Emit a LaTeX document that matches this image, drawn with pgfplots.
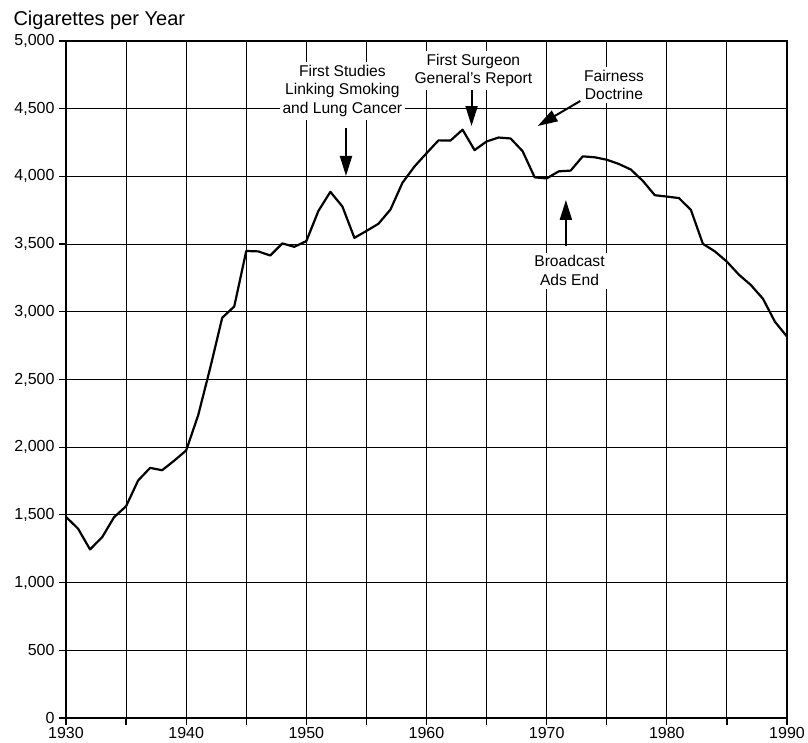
\documentclass[border=0pt]{standalone}
\usepackage{fontspec}
\setmainfont{Liberation Sans}
\usepackage{pgfplots}
\pgfplotsset{compat=1.18}
\usetikzlibrary{arrows.meta}

% US adult per capita cigarette consumption
\begin{document}
\begin{tikzpicture}
\begin{axis}[
    scale only axis, width=721pt, height=677pt,
    xmin=1930, xmax=1990, ymin=0, ymax=5000,
    xtick={1930,1935,...,1990},
    xticklabels={1930,,1940,,1950,,1960,,1970,,1980,,1990},
    ytick={0,500,...,5000},
    yticklabels={0,500,{1,000},{1,500},{2,000},{2,500},{3,000},{3,500},{4,000},{4,500},{5,000}},
    tick align=outside, major tick length=7pt,
    tick style={black, line width=1.2pt},
    xtick pos=bottom, ytick pos=left,
    grid=major,
    major grid style={black, line width=0.9pt},
    axis line style={black, line width=2pt},
    tick label style={font=\fontsize{16}{19}\selectfont},
    yticklabel style={xshift=-1pt},
    xticklabel style={yshift=1pt},
    clip=false,
]
\addplot[black, line width=2.2pt, line join=round] coordinates {
(1930,1485) (1931,1399) (1932,1245) (1933,1334) (1934,1483)
(1935,1564) (1936,1754) (1937,1847) (1938,1830) (1939,1900)
(1940,1976) (1941,2236) (1942,2585) (1943,2956) (1944,3039)
(1945,3449) (1946,3446) (1947,3416) (1948,3505) (1949,3480)
(1950,3522) (1951,3744) (1952,3886) (1953,3778) (1954,3546)
(1955,3597) (1956,3650) (1957,3755) (1958,3953) (1959,4073)
(1960,4171) (1961,4266) (1962,4265) (1963,4345) (1964,4194)
(1965,4258) (1966,4287) (1967,4280) (1968,4186) (1969,3993)
(1970,3985) (1971,4037) (1972,4043) (1973,4148) (1974,4141)
(1975,4123) (1976,4092) (1977,4051) (1978,3967) (1979,3861)
(1980,3851) (1981,3840) (1982,3753) (1983,3502) (1984,3446)
(1985,3370) (1986,3274) (1987,3197) (1988,3096) (1989,2926)
(1990,2817)
};
\coordinate (sw) at (rel axis cs:0,0);
\coordinate (ne) at (rel axis cs:1,1);
\coordinate (nw) at (rel axis cs:0,1);

\tikzset{note/.style={anchor=north, fill=white, inner sep=3pt, align=center,
    font=\fontsize{15.6}{18.5}\selectfont},
  pointer/.style={line width=2pt, -{Triangle[length=20pt,width=12pt]}}}

\node[note] at (axis cs:1953,4845) {First Studies\\Linking Smoking\\and Lung Cancer};
\node[note] at (axis cs:1963.9,4928) {First Surgeon\\General's Report};
\node[note] at (axis cs:1975.6,4811) {Fairness\\Doctrine};
\node[note] at (axis cs:1971.9,3439) {Broadcast\\Ads End};

\draw[pointer] (axis cs:1953.3,4357) -- (axis cs:1953.3,4003);
\draw[pointer] (axis cs:1963.75,4638) -- (axis cs:1963.75,4372);
\draw[pointer] (axis cs:1972.8,4557) -- (axis cs:1969.25,4372);
\draw[pointer] (axis cs:1971.6,3486) -- (axis cs:1971.6,3826);
\end{axis}
\node[anchor=base west, font=\fontsize{20}{24}\selectfont]
  at ([shift={(-56pt,15.5pt)}]nw) {Cigarettes per Year};
\pgfresetboundingbox
\path[use as bounding box] ([shift={(-66pt,-25pt)}]sw) rectangle ([shift={(21pt,41pt)}]ne);
\end{tikzpicture}
\end{document}
